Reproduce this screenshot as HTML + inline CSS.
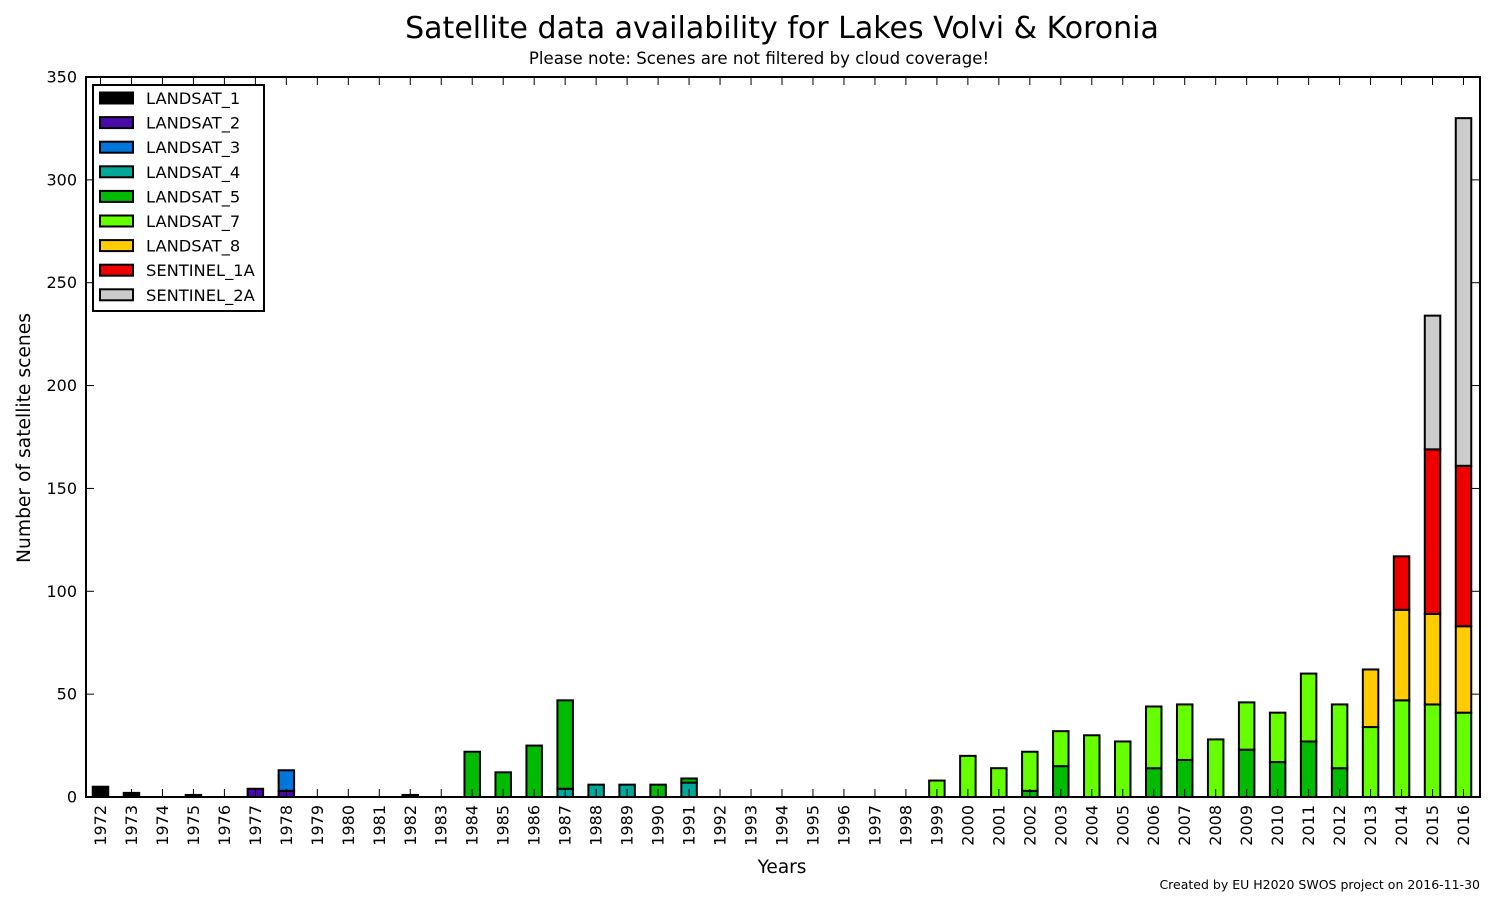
<!DOCTYPE html>
<html><head><meta charset="utf-8"><style>
html,body{margin:0;padding:0;background:#fff;}
svg{display:block;font-family:"DejaVu Sans","Liberation Sans",sans-serif;}
</style></head><body>
<svg id="chart" width="1494" height="907" viewBox="0 0 1494 907" xmlns="http://www.w3.org/2000/svg">
<rect width="1494" height="907" fill="#fff"/>
<text x="782" y="38" font-size="30" text-anchor="middle">Satellite data availability for Lakes Volvi &amp; Koronia</text>
<text x="759" y="64" font-size="16.6" text-anchor="middle">Please note: Scenes are not filtered by cloud coverage!</text>
<text transform="translate(30,438) rotate(-90)" font-size="18.7" text-anchor="middle">Number of satellite scenes</text>
<text x="782" y="873" font-size="18.5" text-anchor="middle">Years</text>
<text x="1480" y="889" font-size="12.5" text-anchor="end">Created by EU H2020 SWOS project on 2016-11-30</text>
<g id="bars"></g>
<g id="axes"></g>
<g id="legend"></g>
</svg>
<script>
const years = [];
for (let y = 1972; y <= 2016; y++) years.push(String(y));
const seriesNames = ["LANDSAT_1","LANDSAT_2","LANDSAT_3","LANDSAT_4","LANDSAT_5","LANDSAT_7","LANDSAT_8","SENTINEL_1A","SENTINEL_2A"];
const seriesColors = ["#000000","#4a0aa8","#0075dc","#00a89a","#00bb00","#66ff00","#ffcc00","#ee0000","#cccccc"];
const landsat1  = [5,2,0,1,0,0,0,0,0,0,        1,0,0,0,0,0,0,0,0,0,        0,0,0,0,0,0,0,0,0,0,     0,0,0,0,0,0,0,0,0,0,             0,0,0,0,0];
const landsat2  = [0,0,0,0,0,4,3,0,0,0,        0,0,0,0,0,0,0,0,0,0,        0,0,0,0,0,0,0,0,0,0,     0,0,0,0,0,0,0,0,0,0,             0,0,0,0,0];
const landsat3  = [0,0,0,0,0,0,10,0,0,0,       0,0,0,0,0,0,0,0,0,0,        0,0,0,0,0,0,0,0,0,0,     0,0,0,0,0,0,0,0,0,0,             0,0,0,0,0];
const landsat4  = [0,0,0,0,0,0,0,0,0,0,        0,0,0,0,0,4,6,6,0,7,        0,0,0,0,0,0,0,0,0,0,     0,0,0,0,0,0,0,0,0,0,             0,0,0,0,0];
const landsat5  = [0,0,0,0,0,0,0,0,0,0,        0,0,22,12,25,43,0,0,6,2,    0,0,0,0,0,0,0,0,0,0,     3,15,0,0,14,18,0,23,17,27,       14,0,0,0,0];
const landsat7  = [0,0,0,0,0,0,0,0,0,0,        0,0,0,0,0,0,0,0,0,0,        0,0,0,0,0,0,0,8,20,14,   19,17,30,27,30,27,28,23,24,33,   31,34,47,45,41];
const landsat8  = [0,0,0,0,0,0,0,0,0,0,        0,0,0,0,0,0,0,0,0,0,        0,0,0,0,0,0,0,0,0,0,     0,0,0,0,0,0,0,0,0,0,             0,28,44,44,42];
const sentinel1 = [0,0,0,0,0,0,0,0,0,0,        0,0,0,0,0,0,0,0,0,0,        0,0,0,0,0,0,0,0,0,0,     0,0,0,0,0,0,0,0,0,0,             0,0,26,80,78];
const sentinel2 = [0,0,0,0,0,0,0,0,0,0,        0,0,0,0,0,0,0,0,0,0,        0,0,0,0,0,0,0,0,0,0,     0,0,0,0,0,0,0,0,0,0,             0,0,0,65,169];
const seriesValues = [landsat1,landsat2,landsat3,landsat4,landsat5,landsat7,landsat8,sentinel1,sentinel2];
const yTicks = [0,50,100,150,200,250,300,350];

const NS = "http://www.w3.org/2000/svg";
const L = 86, R = 1480, T = 77, B = 797, yMax = 350;
const band = (R - L) / years.length;
const xC = i => L + band * (i + 0.5) - 1;
const yS = v => B - (v / yMax) * (B - T);
function mk(tag, attrs, parent) {
  const e = document.createElementNS(NS, tag);
  for (const k in attrs) e.setAttribute(k, attrs[k]);
  parent.appendChild(e);
  return e;
}
const gBars = document.getElementById("bars");
const gAxes = document.getElementById("axes");
const gLeg = document.getElementById("legend");
const bw = band * 0.5;

years.forEach((yr, i) => {
  let base = 0;
  seriesValues.forEach((vals, s) => {
    const v = vals[i];
    if (v <= 0) return;
    const r = mk("rect", {x: xC(i) - bw/2, y: yS(base + v), width: bw, height: yS(base) - yS(base + v), fill: seriesColors[s], stroke: "#000", "stroke-width": 2}, gBars);
    
    
    base += v;
  });
});

const fr = mk("rect", {x: L, y: T, width: R - L, height: B - T, fill: "none", stroke: "#000", "stroke-width": 2}, gAxes);



yTicks.forEach(t => {
  const y = yS(t);
  mk("line", {x1: L, x2: L + 8, y1: y, y2: y, stroke: "#000", "stroke-width": 1}, gAxes);
  mk("line", {x1: R, x2: R - 8, y1: y, y2: y, stroke: "#000", "stroke-width": 1}, gAxes);
  const tx = mk("text", {x: L - 9, y: y + 5.5, "font-size": 16, "text-anchor": "end"}, gAxes);
  tx.textContent = t;
  
  
});
years.forEach((yr, i) => {
  const x = xC(i);
  mk("line", {x1: x, x2: x, y1: B, y2: B - 8, stroke: "#000", "stroke-width": 1}, gAxes);
  mk("line", {x1: x, x2: x, y1: T, y2: T + 8, stroke: "#000", "stroke-width": 1}, gAxes);
  const tx = mk("text", {transform: `translate(${x + 5.5},${B + 8}) rotate(-90)`, "font-size": 16, "text-anchor": "end"}, gAxes);
  tx.textContent = yr;
  
  
});

const lb = mk("rect", {x: 93, y: 85, width: 171, height: 226, fill: "#fff", stroke: "#000", "stroke-width": 2}, gLeg);


seriesNames.forEach((n, s) => {
  const cy = 98 + s * 24.6;
  const g = mk("g", {}, gLeg);
  
  
  mk("rect", {x: 100, y: cy - 5.5, width: 33, height: 11, fill: seriesColors[s], stroke: "#000", "stroke-width": 2}, g);
  const t = mk("text", {x: 146, y: cy + 6, "font-size": 16.3}, g);
  t.textContent = n;
});
</script>
</body></html>
